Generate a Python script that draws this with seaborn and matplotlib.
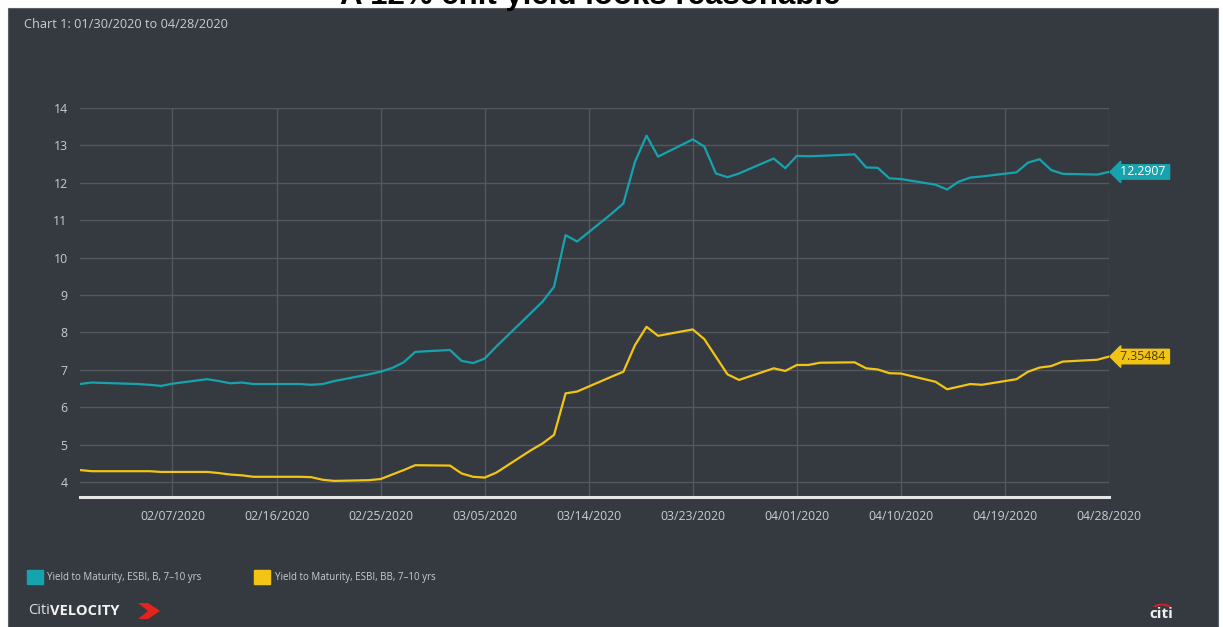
import matplotlib
matplotlib.use("Agg")
import matplotlib.pyplot as plt
import matplotlib.dates as mdates
from matplotlib.patches import Rectangle, Patch, Polygon, Wedge
import pandas as pd
import seaborn as sns

# ---- data -------------------------------------------------------------
dates = ["01/30", "01/31", "02/03", "02/04", "02/05", "02/06", "02/07",
         "02/10", "02/11", "02/12", "02/13", "02/14", "02/18", "02/19",
         "02/20", "02/21", "02/24", "02/25", "02/26", "02/27", "02/28",
         "03/02", "03/03", "03/04", "03/05", "03/06", "03/09", "03/10",
         "03/11", "03/12", "03/13", "03/16", "03/17", "03/18", "03/19",
         "03/20", "03/23", "03/24", "03/25", "03/26", "03/27", "03/30",
         "03/31", "04/01", "04/02", "04/03", "04/06", "04/07", "04/08",
         "04/09", "04/10", "04/13", "04/14", "04/15", "04/16", "04/17",
         "04/20", "04/21", "04/22", "04/23", "04/24", "04/27", "04/28"]

ytm_b = [6.62, 6.66, 6.63, 6.62, 6.60, 6.57, 6.63,
         6.75, 6.70, 6.64, 6.66, 6.62, 6.62, 6.60,
         6.62, 6.70, 6.88, 6.95, 7.05, 7.20, 7.48,
         7.53, 7.24, 7.18, 7.30, 7.62, 8.52, 8.82,
         9.22, 10.60, 10.43, 11.18, 11.45, 12.56, 13.26,
         12.70, 13.16, 12.97, 12.25, 12.15, 12.25, 12.65,
         12.39, 12.72, 12.71, 12.72, 12.76, 12.41, 12.40,
         12.12, 12.10, 11.95, 11.82, 12.03, 12.14, 12.17,
         12.28, 12.54, 12.63, 12.34, 12.24, 12.22, 12.2907]

ytm_bb = [4.32, 4.29, 4.29, 4.29, 4.29, 4.27, 4.27,
          4.27, 4.24, 4.20, 4.18, 4.14, 4.14, 4.13,
          4.06, 4.03, 4.05, 4.08, 4.20, 4.32, 4.45,
          4.44, 4.23, 4.14, 4.12, 4.25, 4.85, 5.03,
          5.26, 6.37, 6.42, 6.82, 6.95, 7.66, 8.15,
          7.91, 8.08, 7.82, 7.35, 6.88, 6.73, 7.04,
          6.97, 7.13, 7.13, 7.19, 7.20, 7.04, 7.01,
          6.91, 6.90, 6.68, 6.48, 6.55, 6.62, 6.60,
          6.75, 6.95, 7.06, 7.10, 7.22, 7.27, 7.35484]

series_names = ["Yield to Maturity, ESBI, B, 7\u201310 yrs",
                "Yield to Maturity, ESBI, BB, 7\u201310 yrs"]
last_labels = ["12.2907", "7.35484"]
tick_dates = ["02/07", "02/16", "02/25", "03/05", "03/14", "03/23",
              "04/01", "04/10", "04/19", "04/28"]
y_ticks = [4, 5, 6, 7, 8, 9, 10, 11, 12, 13, 14]

# ---- styling ----------------------------------------------------------
PANEL = "#353a41"
GRID = "#53585f"
TEXT = "#c9ccd0"
TEAL = "#17a3ad"
GOLD = "#f2c414"
colors = [TEAL, GOLD]

def to_dt(s):
    return pd.to_datetime("2020/" + s, format="%Y/%m/%d")

frame = pd.DataFrame({
    "date": [to_dt(d) for d in dates] * 2,
    "value": ytm_b + ytm_bb,
    "series": [series_names[0]] * len(dates) + [series_names[1]] * len(dates),
})

sns.set_theme(style="dark")
plt.rcParams["font.family"] = ["Open Sans", "DejaVu Sans"]

fig = plt.figure(figsize=(12.23, 6.27), dpi=100, facecolor="white")
W, H = 1223, 627

# dark card behind everything
fig.patches.append(Rectangle((8 / W, 0), (1218 - 8) / W, (627 - 8) / H,
                             transform=fig.transFigure, facecolor=PANEL,
                             edgecolor="#5a5f66", linewidth=0.8, zorder=-2))

fig.text(590 / W, 1 - 4 / H, "A 12% chit yield looks reasonable",
         ha="center", va="baseline", fontsize=22.5, fontweight="bold",
         family=["Liberation Sans"], color="black", zorder=5)

fig.text(24 / W, 1 - 24 / H, "Chart 1: 01/30/2020 to 04/28/2020",
         ha="left", va="center", fontsize=9.2, color=TEXT)

ax = fig.add_axes([80 / W, 1 - 497 / H, (1109 - 80) / W, (497 - 108) / H])
ax.set_facecolor(PANEL)

sns.lineplot(data=frame, x="date", y="value", hue="series",
             palette=colors, linewidth=1.6, ax=ax, legend=False, zorder=3)

ax.set_xlim(to_dt("01/30"), to_dt("04/28"))
ax.set_ylim(3.6, 14)
ax.set_yticks(y_ticks)
ax.set_xticks([to_dt(d) for d in tick_dates])
ax.xaxis.set_major_formatter(mdates.DateFormatter("%m/%d/%Y"))
ax.set_xlabel("")
ax.set_ylabel("")

ax.grid(True, color=GRID, linewidth=1.0, zorder=0)
for side in ["left", "right", "top"]:
    ax.spines[side].set_visible(False)
ax.spines["bottom"].set_color("#e6e6e6")
ax.spines["bottom"].set_linewidth(2.2)
ax.tick_params(axis="x", colors="#e6e6e6", length=3, width=2,
               direction="inout", labelcolor=TEXT, labelsize=8.8, pad=8)
ax.tick_params(axis="y", length=0, labelcolor=TEXT, labelsize=8.8, pad=9)

# value tags at the last point of each series
last_date = to_dt(dates[-1])
for vals, lab, col, tcol in zip([ytm_b, ytm_bb], last_labels, colors,
                                ["white", "#4a3d00"]):
    ax.annotate(" " + lab + " ", xy=(last_date, vals[-1]), xytext=(6, 0),
                textcoords="offset points", ha="left", va="center",
                fontsize=8.8, color=tcol, annotation_clip=False, zorder=6,
                bbox=dict(boxstyle="larrow,pad=0.06", facecolor=col,
                          edgecolor=col))

# legend with square swatches
handles = [Patch(facecolor=c, edgecolor=c) for c in colors]
fig.legend(handles, series_names, loc="center left",
           bbox_to_anchor=(27 / W, 1 - 577 / H), ncol=2, frameon=False,
           borderpad=0, borderaxespad=0,
           fontsize=7, labelcolor=TEXT, handlelength=1.65, handleheight=1.75,
           handletextpad=0.45, columnspacing=5.4)

# CitiVELOCITY wordmark
renderer = fig.canvas.get_renderer()
t1 = fig.text(28 / W, 1 - 611 / H, "Citi", ha="left", va="center",
              fontsize=10.5, color="#e0e0e0")
x_end = t1.get_window_extent(renderer=renderer).x1
fig.text(x_end / W + 0.5 / W, 1 - 611 / H, "VELOCITY", ha="left", va="center",
         fontsize=10.5, fontweight="bold", color="#f2f2f2")
chev_x, chev_y = 138, 611
chev = [(chev_x, chev_y - 8), (chev_x + 10, chev_y - 8), (chev_x + 22, chev_y),
        (chev_x + 10, chev_y + 8), (chev_x, chev_y + 8), (chev_x + 10, chev_y)]
fig.patches.append(Polygon([(x / W, 1 - y / H) for x, y in chev], closed=True,
                           transform=fig.transFigure, facecolor="#e3231c",
                           edgecolor="none", zorder=4))

# citi mark, bottom right
fig.text(1161 / W, 1 - 614 / H, "citi", ha="center", va="center",
         fontsize=11, fontweight="bold", color="#f0f0f0")
fig.patches.append(Wedge((1162 / W, 1 - 609 / H), 0.0085, 30, 150,
                         width=0.003, transform=fig.transFigure,
                         facecolor="#d0202a", edgecolor="none", zorder=4))

fig.savefig("out.png", dpi=100, facecolor="white")
